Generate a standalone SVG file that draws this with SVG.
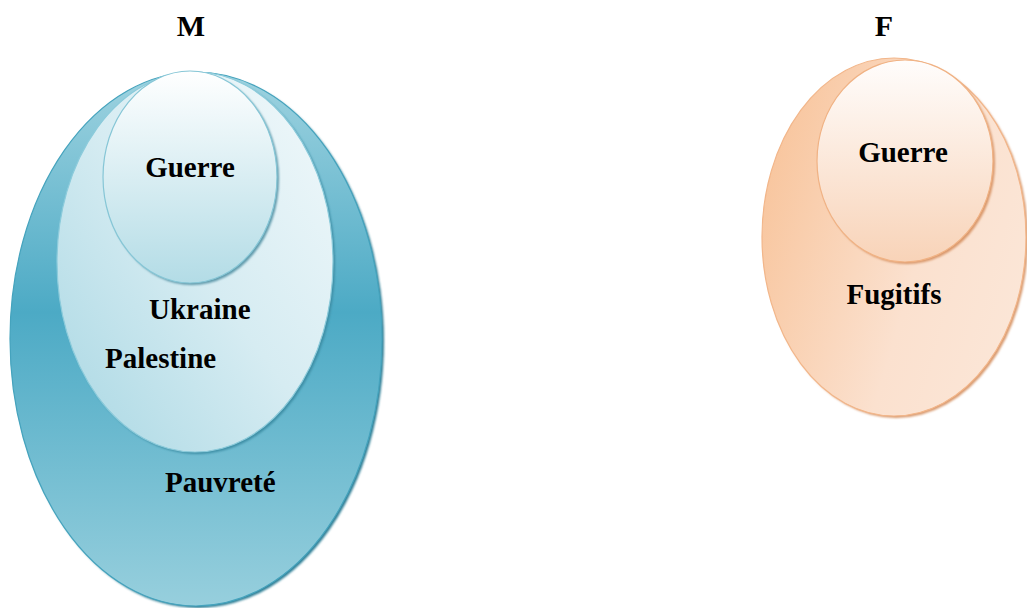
<svg xmlns="http://www.w3.org/2000/svg" width="1027" height="608" viewBox="0 0 1027 608">
  <style>
    .lbl { font-family: "Liberation Serif", "Times New Roman", serif; font-weight: bold; font-size: 29px; fill: #000; }
    .ttl { font-family: "Liberation Serif", "Times New Roman", serif; font-weight: bold; font-size: 30px; fill: #000; }
  </style>
  <defs>
    <linearGradient id="mOuter" x1="0" y1="0" x2="0" y2="1">
      <stop offset="0" stop-color="#9fd3e0"/>
      <stop offset="0.45" stop-color="#4caac5"/>
      <stop offset="1" stop-color="#97cfdd"/>
    </linearGradient>
    <linearGradient id="mMid" x1="1" y1="0" x2="0" y2="1">
      <stop offset="0" stop-color="#f2f9fb"/>
      <stop offset="0.5" stop-color="#d6ecf2"/>
      <stop offset="1" stop-color="#a8d7e3"/>
    </linearGradient>
    <linearGradient id="mInner" x1="0" y1="0" x2="0" y2="1">
      <stop offset="0" stop-color="#ffffff"/>
      <stop offset="1" stop-color="#b3dce6"/>
    </linearGradient>
    <linearGradient id="fOuter" x1="0" y1="0.3" x2="1" y2="0.7">
      <stop offset="0" stop-color="#f8c59d"/>
      <stop offset="0.6" stop-color="#fbe1cf"/>
      <stop offset="1" stop-color="#fbe6d7"/>
    </linearGradient>
    <linearGradient id="fInner" x1="0" y1="0" x2="0" y2="1">
      <stop offset="0" stop-color="#fffdfc"/>
      <stop offset="1" stop-color="#f8d3b8"/>
    </linearGradient>
    <filter id="soft" x="-10%" y="-10%" width="120%" height="120%">
      <feGaussianBlur stdDeviation="1.2"/>
    </filter>
  </defs>

  <!-- Titles -->
  <text class="ttl" x="191" y="36" text-anchor="middle">M</text>
  <text class="ttl" x="884" y="36" text-anchor="middle">F</text>

  <!-- M: Pauvreté (outer) -->
  <g id="m-pauvrete">
    <ellipse cx="198" cy="341" rx="186" ry="267" fill="#2f7f96" filter="url(#soft)"/>
    <ellipse cx="196" cy="339" rx="186" ry="267" fill="url(#mOuter)" stroke="#45a3bd" stroke-width="1.2"/>
    <text class="lbl" x="165" y="492">Pauvreté</text>
  </g>

  <!-- M: Ukraine / Palestine (middle) -->
  <g id="m-ukraine-palestine">
    <ellipse cx="197" cy="264" rx="138" ry="190" fill="#3d8ea5" filter="url(#soft)"/>
    <ellipse cx="195" cy="262" rx="138" ry="190" fill="url(#mMid)" stroke="#8ccbdb" stroke-width="1.2"/>
    <text class="lbl" x="149" y="319">Ukraine</text>
    <text class="lbl" x="105" y="368">Palestine</text>
  </g>

  <!-- M: Guerre (inner) -->
  <g id="m-guerre">
    <ellipse cx="192" cy="179" rx="87" ry="106" fill="#5f9aab" filter="url(#soft)"/>
    <ellipse cx="190" cy="177" rx="87" ry="106" fill="url(#mInner)" stroke="#86c6d6" stroke-width="1.2"/>
    <text class="lbl" x="190" y="177" text-anchor="middle">Guerre</text>
  </g>

  <!-- F: Fugitifs (outer) -->
  <g id="f-fugitifs">
    <ellipse cx="896" cy="239" rx="132" ry="179" fill="#d99a6e" filter="url(#soft)"/>
    <ellipse cx="894" cy="237" rx="132" ry="179" fill="url(#fOuter)" stroke="#f2b68a" stroke-width="1.2"/>
    <text class="lbl" x="894" y="304" text-anchor="middle">Fugitifs</text>
  </g>

  <!-- F: Guerre (inner) -->
  <g id="f-guerre">
    <ellipse cx="907" cy="163" rx="88" ry="101" fill="#d9976a" filter="url(#soft)"/>
    <ellipse cx="905" cy="161" rx="88" ry="101" fill="url(#fInner)" stroke="#f0b284" stroke-width="1.2"/>
    <text class="lbl" x="903" y="162" text-anchor="middle">Guerre</text>
  </g>
</svg>
